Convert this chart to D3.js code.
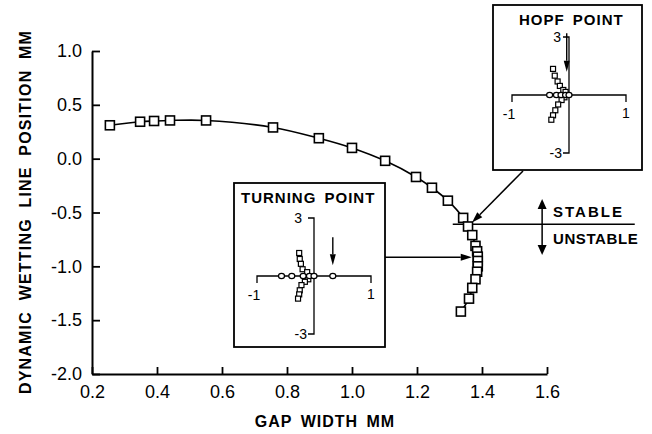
<!DOCTYPE html>
<html>
<head>
<meta charset="utf-8">
<script src="https://cdn.jsdelivr.net/npm/d3@7"></script>
<style>
  body { margin: 0; background: #fff; }
  text { font-family: "Liberation Sans", Arial, Helvetica, sans-serif; fill: #000; }
</style>
</head>
<body>
<div id="chart"></div>
<script>
// main curve: gap width (mm) vs dynamic wetting line position (mm)
const gapWidth = [0.255, 0.348, 0.391, 0.44, 0.551, 0.757, 0.898, 1.0, 1.102, 1.197, 1.246, 1.295, 1.342,
                  1.357, 1.37, 1.38, 1.385, 1.387, 1.387, 1.387, 1.385, 1.38, 1.37, 1.36, 1.335];
const position = [0.31, 0.343, 0.35, 0.355, 0.355, 0.29, 0.19, 0.10, -0.02, -0.17, -0.27, -0.39, -0.55,
                  -0.63, -0.71, -0.81, -0.86, -0.91, -0.95, -1.0, -1.05, -1.12, -1.2, -1.3, -1.42];

const xTicks = [0.2, 0.4, 0.6, 0.8, 1.0, 1.2, 1.4, 1.6];
const yTicks = [-2.0, -1.5, -1.0, -0.5, 0.0, 0.5, 1.0];

// inset eigenvalue spectra (complex pairs and real ones)
const hopfRe = [-0.28, -0.25, -0.2, -0.16, -0.1, -0.06, -0.08, -0.13, -0.19, -0.24, -0.28, -0.31];
const hopfIm = [1.35, 1.0, 0.7, 0.47, 0.26, 0.16, -0.12, -0.26, -0.49, -0.79, -1.05, -1.28];
const hopfReal = [-0.34, -0.22, -0.14, -0.06, 0.0];

const turnRe = [-0.26, -0.25, -0.23, -0.2, -0.12, -0.1, -0.16, -0.22, -0.25, -0.26, -0.28];
const turnIm = [1.19, 0.88, 0.63, 0.35, 0.2, -0.17, -0.3, -0.47, -0.74, -0.95, -1.17];
const turnReal = [-0.57, -0.39, -0.19, -0.08, 0.0, 0.33];

const stableBoundary = -0.61;

const width = 652, height = 434;

const svg = d3.select("#chart").append("svg")
    .attr("width", width)
    .attr("height", height);

const x = d3.scaleLinear().domain([0.2, 1.6]).range([92, 547]);
const y = d3.scaleLinear().domain([-2.0, 1.0]).range([374, 51]);

const fmt = d => d.toFixed(1);

// axes
const xAxis = svg.append("g")
    .attr("transform", `translate(0,${y(-2)})`)
    .call(d3.axisBottom(x).tickValues(xTicks).tickFormat(fmt).tickSizeInner(-7).tickSizeOuter(0).tickPadding(11));
const yAxis = svg.append("g")
    .attr("transform", `translate(${x(0.2)},0)`)
    .call(d3.axisLeft(y).tickValues(yTicks).tickFormat(fmt).tickSizeInner(-8).tickSizeOuter(0).tickPadding(10));

[xAxis, yAxis].forEach(g => {
  g.select(".domain").attr("stroke-width", 2);
  g.selectAll(".tick line").attr("stroke-width", 1.8);
  g.selectAll(".tick text")
    .attr("font-size", 18)
    .attr("font-family", "'Liberation Sans', Arial, sans-serif");
});

svg.append("text")
    .attr("x", 325).attr("y", 427)
    .attr("text-anchor", "middle")
    .attr("font-size", 16).attr("font-weight", "bold")
    .attr("letter-spacing", 1).attr("word-spacing", 3)
    .text("GAP WIDTH MM");

svg.append("text")
    .attr("transform", "translate(31,212) rotate(-90)")
    .attr("text-anchor", "middle")
    .attr("font-size", 16).attr("font-weight", "bold")
    .attr("letter-spacing", 1.2).attr("word-spacing", 5)
    .text("DYNAMIC WETTING LINE POSITION MM");

// arrow helper: line ending in a filled triangle
function arrow(g, x1, y1, x2, y2, len, w, sw) {
  const a = Math.atan2(y2 - y1, x2 - x1);
  const bx = x2 - len * Math.cos(a), by = y2 - len * Math.sin(a);
  const px = -Math.sin(a) * w / 2, py = Math.cos(a) * w / 2;
  g.append("line")
      .attr("x1", x1).attr("y1", y1).attr("x2", bx).attr("y2", by)
      .attr("stroke", "#000").attr("stroke-width", sw || 1.5);
  g.append("path")
      .attr("d", `M${x2},${y2}L${bx + px},${by + py}L${bx - px},${by - py}Z`)
      .attr("fill", "#000");
}

// stability boundary
const ann = svg.append("g");
ann.append("line")
    .attr("x1", x(1.31)).attr("x2", x(1.87))
    .attr("y1", y(stableBoundary)).attr("y2", y(stableBoundary))
    .attr("stroke", "#000").attr("stroke-width", 1.5);
arrow(ann, x(1.585), y(stableBoundary), x(1.585), y(-0.375), 10, 9, 1.5);
arrow(ann, x(1.585), y(stableBoundary), x(1.585), y(-0.895), 10, 9, 1.5);
ann.append("text")
    .attr("x", 553).attr("y", 217)
    .attr("font-size", 15).attr("font-weight", "bold").attr("letter-spacing", 2)
    .text("STABLE");
ann.append("text")
    .attr("x", 553).attr("y", 244)
    .attr("font-size", 15).attr("font-weight", "bold").attr("letter-spacing", 0.6)
    .text("UNSTABLE");

// main curve
const pts = gapWidth.map((g, i) => [x(g), y(position[i])]);
svg.append("path")
    .attr("d", d3.line().curve(d3.curveCatmullRom.alpha(0.5))(pts))
    .attr("fill", "none")
    .attr("stroke", "#000")
    .attr("stroke-width", 1.6);

svg.append("g")
  .selectAll("rect")
  .data(pts)
  .join("rect")
    .attr("x", d => d[0] - 4.5)
    .attr("y", d => d[1] - 4.5)
    .attr("width", 9).attr("height", 9)
    .attr("fill", "#fff")
    .attr("stroke", "#000")
    .attr("stroke-width", 1.6);

// pointer arrows from insets to the curve
arrow(svg, 523, 171, x(gapWidth[13]) + 4, y(position[13]) - 4, 11, 7, 1.5);
arrow(svg, 385, y(-0.915), x(1.387) - 6, y(-0.915), 11, 7, 1.5);

// inset drawing
function inset(box, cx, cy, title, titleX, re, im, real, arr, labelOff) {
  const g = svg.append("g");
  g.append("rect")
      .attr("x", box[0]).attr("y", box[1])
      .attr("width", box[2] - box[0]).attr("height", box[3] - box[1])
      .attr("fill", "#fff").attr("stroke", "#000").attr("stroke-width", 1.8);
  g.append("text")
      .attr("x", titleX).attr("y", box[1] + 20)
      .attr("font-size", 15).attr("font-weight", "bold")
      .attr("letter-spacing", 1).attr("word-spacing", 3)
      .text(title);

  const sx = d3.scaleLinear().domain([-1, 1]).range([cx - 57, cx + 57]);
  const sy = d3.scaleLinear().domain([-3, 3]).range([cy + 58, cy - 58]);

  const ax = g.append("g").attr("stroke", "#000").attr("stroke-width", 1.3).attr("fill", "none");
  ax.append("path").attr("d", `M${sx(-1)},${sy(0) + 7}V${sy(0)}H${sx(1)}V${sy(0) + 7}`);
  ax.append("path").attr("d", `M${sx(0) - 6},${sy(3)}H${sx(0)}V${sy(-3)}H${sx(0) - 6}`);

  const lab = [
    {t: "3", x: sx(0) - labelOff, y: sy(3) + 5, a: "end"},
    {t: "-3", x: sx(0) - 7, y: sy(-3) + 5, a: "end"},
    {t: "-1", x: sx(-1) - 3, y: sy(0) + 24, a: "middle"},
    {t: "1", x: sx(1), y: sy(0) + 23, a: "middle"}
  ];
  g.selectAll("text.lab").data(lab).join("text")
      .attr("class", "lab")
      .attr("x", d => d.x).attr("y", d => d.y)
      .attr("text-anchor", d => d.a)
      .attr("font-size", 14)
      .text(d => d.t);

  g.selectAll("rect.ev").data(re).join("rect")
      .attr("class", "ev")
      .attr("x", (d, i) => sx(d) - 2.5).attr("y", (d, i) => sy(im[i]) - 2.5)
      .attr("width", 5).attr("height", 5)
      .attr("fill", "#fff").attr("stroke", "#000").attr("stroke-width", 1.2);
  g.selectAll("ellipse.ev").data(real).join("ellipse")
      .attr("class", "ev")
      .attr("cx", d => sx(d)).attr("cy", sy(0))
      .attr("rx", 3).attr("ry", 2.6)
      .attr("fill", "#fff").attr("stroke", "#000").attr("stroke-width", 1.2);

  arrow(g, sx(arr[0]), sy(arr[1]), sx(arr[0]), sy(arr[2]), 11, 6, 1.4);
}

inset([493, 5, 642, 170], 569, 95, "HOPF  POINT", 519, hopfRe, hopfIm, hopfReal, [-0.04, 3.2, 1.2], 8);
inset([234, 183, 385, 347], 314, 276, "TURNING  POINT", 241, turnRe, turnIm, turnReal, [0.33, 2.0, 0.55], 12);
</script>
</body>
</html>
